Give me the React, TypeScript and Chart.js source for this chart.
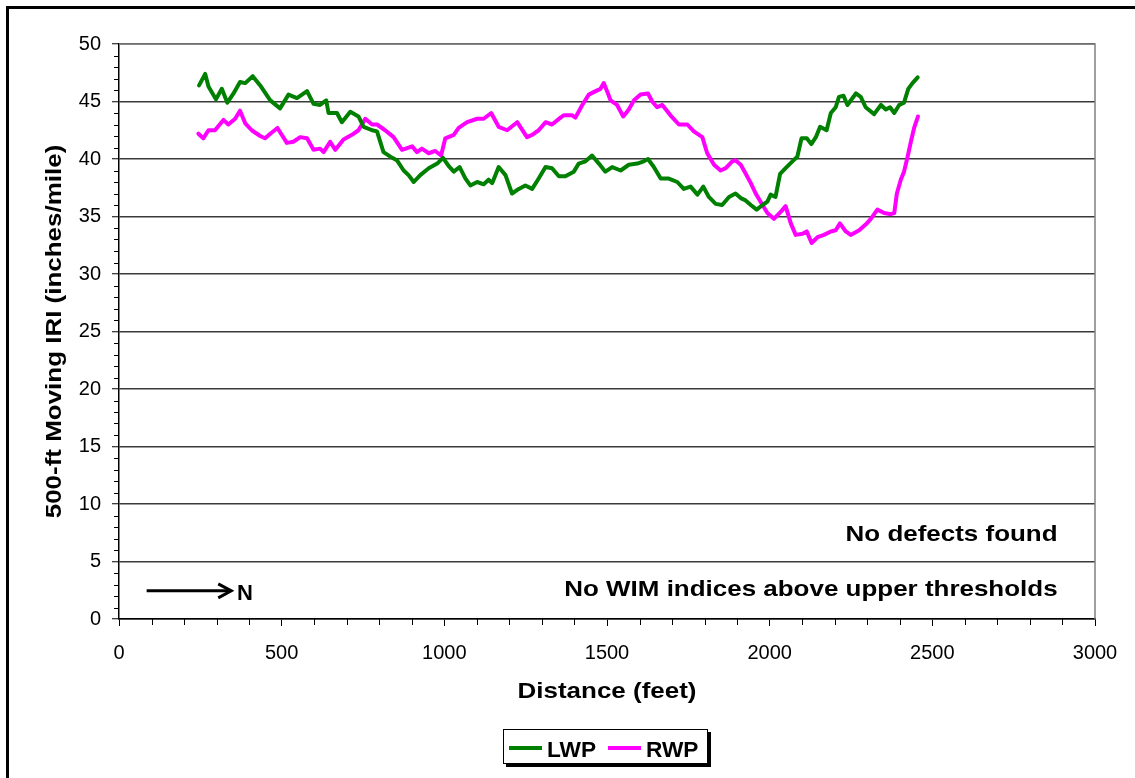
import React, { useEffect, useRef } from 'react';
import { Chart, registerables } from 'chart.js';

Chart.register(...registerables);

// 500-ft moving IRI profiles, [distance (ft), IRI (in/mi)]
const lwpProfile: [number, number][] = [
  [246, 46.4], [265, 47.4], [275, 46.3], [298, 45.2], [316, 46.1], [333, 44.9], [352, 45.7], [372, 46.7],
  [388, 46.6], [411, 47.2], [434, 46.4], [465, 45.1], [495, 44.4], [521, 45.6], [547, 45.3], [578, 45.9],
  [598, 44.8], [618, 44.7], [637, 45.1], [644, 44.0], [670, 44.0], [685, 43.2], [711, 44.1], [736, 43.7],
  [752, 42.8], [778, 42.5], [793, 42.4], [813, 40.6], [834, 40.2], [854, 39.9], [875, 39.0], [890, 38.6],
  [906, 38.0], [926, 38.6], [952, 39.2], [978, 39.6], [996, 40.1], [1013, 39.4], [1029, 38.9], [1047, 39.3],
  [1065, 38.3], [1080, 37.7], [1101, 38.0], [1121, 37.8], [1136, 38.2], [1147, 37.9], [1167, 39.3], [1188, 38.6],
  [1208, 37.0], [1229, 37.4], [1249, 37.7], [1270, 37.4], [1290, 38.3], [1311, 39.3], [1331, 39.2], [1352, 38.5],
  [1372, 38.5], [1398, 38.9], [1413, 39.6], [1434, 39.8], [1454, 40.3], [1475, 39.6], [1495, 38.9], [1516, 39.3],
  [1542, 39.0], [1567, 39.5], [1593, 39.6], [1613, 39.8], [1626, 40.0], [1644, 39.3], [1665, 38.3], [1690, 38.3],
  [1716, 38.0], [1736, 37.4], [1757, 37.6], [1778, 36.9], [1796, 37.6], [1813, 36.7], [1834, 36.1], [1854, 36.0],
  [1875, 36.7], [1895, 37.0], [1911, 36.6], [1926, 36.4], [1942, 36.0], [1960, 35.6], [1978, 36.0], [1993, 36.3],
  [2003, 36.9], [2018, 36.7], [2032, 38.7], [2049, 39.2], [2070, 39.8], [2085, 40.2], [2098, 41.8], [2114, 41.8],
  [2128, 41.3], [2142, 41.9], [2155, 42.8], [2175, 42.5], [2188, 44.0], [2203, 44.5], [2213, 45.4], [2227, 45.5],
  [2239, 44.7], [2265, 45.7], [2280, 45.4], [2295, 44.5], [2321, 43.9], [2342, 44.7], [2357, 44.3], [2370, 44.5],
  [2383, 44.0], [2398, 44.7], [2413, 44.9], [2426, 46.1], [2439, 46.6], [2455, 47.1],
];

const rwpProfile: [number, number][] = [
  [244, 42.2], [259, 41.8], [275, 42.5], [295, 42.5], [321, 43.4], [336, 43.0], [357, 43.5], [372, 44.2],
  [388, 43.1], [408, 42.5], [434, 42.0], [449, 41.8], [465, 42.2], [487, 42.7], [516, 41.4], [536, 41.5],
  [557, 41.9], [578, 41.8], [598, 40.8], [618, 40.9], [629, 40.6], [649, 41.5], [665, 40.8], [690, 41.7],
  [716, 42.1], [736, 42.5], [757, 43.5], [778, 43.0], [793, 43.0], [818, 42.5], [844, 41.9], [870, 40.8],
  [901, 41.1], [916, 40.6], [931, 40.9], [952, 40.5], [972, 40.7], [990, 40.3], [1003, 41.8], [1029, 42.1],
  [1044, 42.7], [1070, 43.2], [1101, 43.5], [1121, 43.5], [1144, 44.0], [1167, 42.8], [1193, 42.5], [1224, 43.2],
  [1254, 41.9], [1270, 42.1], [1290, 42.5], [1311, 43.2], [1331, 43.0], [1357, 43.6], [1367, 43.8], [1393, 43.8],
  [1403, 43.6], [1424, 44.7], [1444, 45.6], [1465, 45.9], [1480, 46.1], [1490, 46.6], [1503, 45.7], [1511, 45.1],
  [1531, 44.7], [1550, 43.7], [1567, 44.3], [1583, 45.1], [1603, 45.6], [1626, 45.7], [1639, 45.0], [1654, 44.5],
  [1670, 44.7], [1695, 43.8], [1721, 43.0], [1747, 43.0], [1767, 42.4], [1793, 41.9], [1808, 40.5], [1829, 39.5],
  [1849, 39.0], [1865, 39.2], [1885, 39.8], [1895, 39.9], [1911, 39.5], [1921, 39.0], [1942, 37.9], [1957, 37.0],
  [1978, 36.0], [1993, 35.3], [2013, 34.8], [2034, 35.4], [2049, 35.9], [2065, 34.4], [2080, 33.4], [2101, 33.5],
  [2114, 33.7], [2129, 32.7], [2147, 33.2], [2167, 33.4], [2188, 33.7], [2203, 33.8], [2216, 34.4], [2234, 33.7],
  [2249, 33.4], [2275, 33.8], [2295, 34.3], [2311, 34.8], [2331, 35.6], [2352, 35.3], [2372, 35.2], [2383, 35.3],
  [2391, 37.0], [2403, 38.2], [2413, 38.9], [2424, 40.2], [2434, 41.5], [2444, 42.7], [2456, 43.7],
];

const seriesNames = ['LWP', 'RWP'];
const seriesColors = ['#008000', '#FF00FF'];

const xTicks = [0, 500, 1000, 1500, 2000, 2500, 3000];
const yTicks = [0, 5, 10, 15, 20, 25, 30, 35, 40, 45, 50];

const xTitle = 'Distance (feet)';
const yTitle = '500-ft Moving IRI (inches/mile)';
const notes = ['No defects found', 'No WIM indices above upper thresholds'];
const directionLabel = 'N';

const FONT = "'Liberation Sans', Arial, Helvetica, sans-serif";
const W = 1135;
const H = 778;

function boldText(
  ctx: CanvasRenderingContext2D,
  text: string,
  x: number,
  y: number,
  size: number,
  stretch: number,
  align: CanvasTextAlign,
  angle = 0
) {
  ctx.save();
  ctx.translate(x, y);
  if (angle) ctx.rotate(angle);
  ctx.scale(stretch, 1);
  ctx.font = `bold ${size}px ${FONT}`;
  ctx.textAlign = align;
  ctx.textBaseline = 'alphabetic';
  ctx.fillStyle = '#000';
  ctx.fillText(text, 0, 0);
  ctx.restore();
}

const decorations = {
  id: 'decorations',
  beforeDraw(chart: any) {
    const ctx: CanvasRenderingContext2D = chart.ctx;
    ctx.save();
    ctx.fillStyle = '#fff';
    ctx.fillRect(0, 0, chart.width, chart.height);
    // outer frame (left and top edges fall inside the page)
    ctx.fillStyle = '#000';
    ctx.fillRect(6, 6, 3, chart.height);
    ctx.fillRect(6, 6, chart.width, 3);
    ctx.restore();
  },
  afterDraw(chart: any) {
    const ctx: CanvasRenderingContext2D = chart.ctx;
    const area = chart.chartArea;
    const xs = chart.scales.x;
    const ys = chart.scales.y;
    ctx.save();

    // minor tick marks
    ctx.strokeStyle = '#000';
    ctx.lineWidth = 1;
    ctx.beginPath();
    for (let v = 1; v < 50; v++) {
      if (v % 5 === 0) continue;
      const py = Math.round(ys.getPixelForValue(v)) + 0.5;
      ctx.moveTo(area.left - 5, py);
      ctx.lineTo(area.left, py);
    }
    for (let v = 100; v < 3000; v += 100) {
      if (v % 500 === 0) continue;
      const px = Math.round(xs.getPixelForValue(v)) + 0.5;
      ctx.moveTo(px, area.bottom);
      ctx.lineTo(px, area.bottom + 6);
    }
    ctx.stroke();

    // top and right edges of the plot area
    ctx.strokeStyle = '#808080';
    ctx.lineWidth = 1.5;
    ctx.beginPath();
    ctx.moveTo(area.left, area.top);
    ctx.lineTo(area.right, area.top);
    ctx.lineTo(area.right, area.bottom);
    ctx.stroke();

    // notes
    const noteX = xs.getPixelForValue(2885);
    boldText(ctx, notes[0], noteX, ys.getPixelForValue(6.8), 22, 1.18, 'right');
    boldText(ctx, notes[1], noteX, ys.getPixelForValue(2.0), 22, 1.18, 'right');

    // direction arrow
    const ay = ys.getPixelForValue(2.45);
    const ax0 = xs.getPixelForValue(85);
    const ax1 = xs.getPixelForValue(345);
    ctx.strokeStyle = '#000';
    ctx.lineWidth = 3;
    ctx.lineCap = 'butt';
    ctx.beginPath();
    ctx.moveTo(ax0, ay);
    ctx.lineTo(ax1 - 1, ay);
    ctx.stroke();
    ctx.beginPath();
    ctx.moveTo(ax1 - 13, ay - 7);
    ctx.lineTo(ax1, ay);
    ctx.lineTo(ax1 - 13, ay + 7);
    ctx.stroke();
    boldText(ctx, directionLabel, xs.getPixelForValue(363), ay + 9, 22, 1.0, 'left');

    // axis titles
    boldText(ctx, xTitle, (area.left + area.right) / 2, 698, 22, 1.18, 'center');
    boldText(ctx, yTitle, 61, (area.top + area.bottom) / 2, 22, 1.18, 'center', -Math.PI / 2);

    // legend box with drop shadow
    const lx = 503, ly = 729, lw = 205, lh = 35;
    ctx.fillStyle = '#000';
    ctx.fillRect(lx + 3, ly + 3, lw, lh);
    ctx.fillStyle = '#fff';
    ctx.fillRect(lx, ly, lw, lh);
    ctx.strokeStyle = '#000';
    ctx.lineWidth = 1;
    ctx.strokeRect(lx + 0.5, ly + 0.5, lw - 1, lh - 1);
    const entries = chart.data.datasets;
    const entryX = [509, 608];
    entries.forEach((ds: any, i: number) => {
      const ex = entryX[i];
      ctx.strokeStyle = ds.borderColor;
      ctx.lineWidth = 4;
      ctx.beginPath();
      ctx.moveTo(ex, ly + 19);
      ctx.lineTo(ex + 33, ly + 19);
      ctx.stroke();
      boldText(ctx, ds.label, ex + 38, ly + 28, 22, 1.03, 'left');
    });

    ctx.restore();
  },
};

export default function App() {
  const canvasRef = useRef<HTMLCanvasElement | null>(null);

  useEffect(() => {
    const canvas = canvasRef.current;
    if (!canvas) return;
    const profiles = [lwpProfile, rwpProfile];
    const chart = new Chart(canvas, {
      type: 'line',
      data: {
        datasets: profiles.map((p, i) => ({
          label: seriesNames[i],
          data: p.map(([d, v]) => ({ x: d, y: v })),
          borderColor: seriesColors[i],
          backgroundColor: seriesColors[i],
          borderWidth: 4,
          borderJoinStyle: 'round',
          borderCapStyle: 'round',
          pointRadius: 0,
          tension: 0,
          fill: false,
        })),
      },
      options: {
        responsive: false,
        animation: false,
        devicePixelRatio: 1,
        layout: { padding: { top: 44, right: 40, left: 0, bottom: 0 } },
        plugins: {
          legend: { display: false },
          tooltip: { enabled: false },
          title: { display: false },
        },
        scales: {
          x: {
            type: 'linear',
            min: 0,
            max: 3000,
            afterBuildTicks: (s: any) => {
              s.ticks = xTicks.map((v) => ({ value: v }));
            },
            afterFit: (s: any) => {
              s.height = H - 619;
            },
            ticks: {
              font: { family: FONT, size: 20 },
              color: '#000',
              padding: 15,
              maxRotation: 0,
              autoSkip: false,
              callback: (v: any) => String(v),
            },
            grid: {
              drawOnChartArea: false,
              drawTicks: true,
              tickLength: 7,
              tickColor: '#000',
              tickWidth: 1,
            },
            border: { color: '#000', width: 1.5 },
          },
          y: {
            type: 'linear',
            min: 0,
            max: 50,
            afterBuildTicks: (s: any) => {
              s.ticks = yTicks.map((v) => ({ value: v }));
            },
            afterFit: (s: any) => {
              s.width = 119;
            },
            ticks: {
              font: { family: FONT, size: 20 },
              color: '#000',
              padding: 11,
              callback: (v: any) => String(v),
            },
            grid: {
              color: '#3a3a3a',
              lineWidth: 1.5,
              tickLength: 7,
              tickColor: '#000',
              tickWidth: 1,
            },
            border: { color: '#000', width: 1.5 },
          },
        },
      },
      plugins: [decorations],
    } as any);
    return () => chart.destroy();
  }, []);

  return (
    <div style={{ position: 'absolute', left: 0, top: 0, width: W, height: H, background: '#fff' }}>
      <canvas ref={canvasRef} width={W} height={H} style={{ display: 'block', width: W, height: H }} />
    </div>
  );
}
